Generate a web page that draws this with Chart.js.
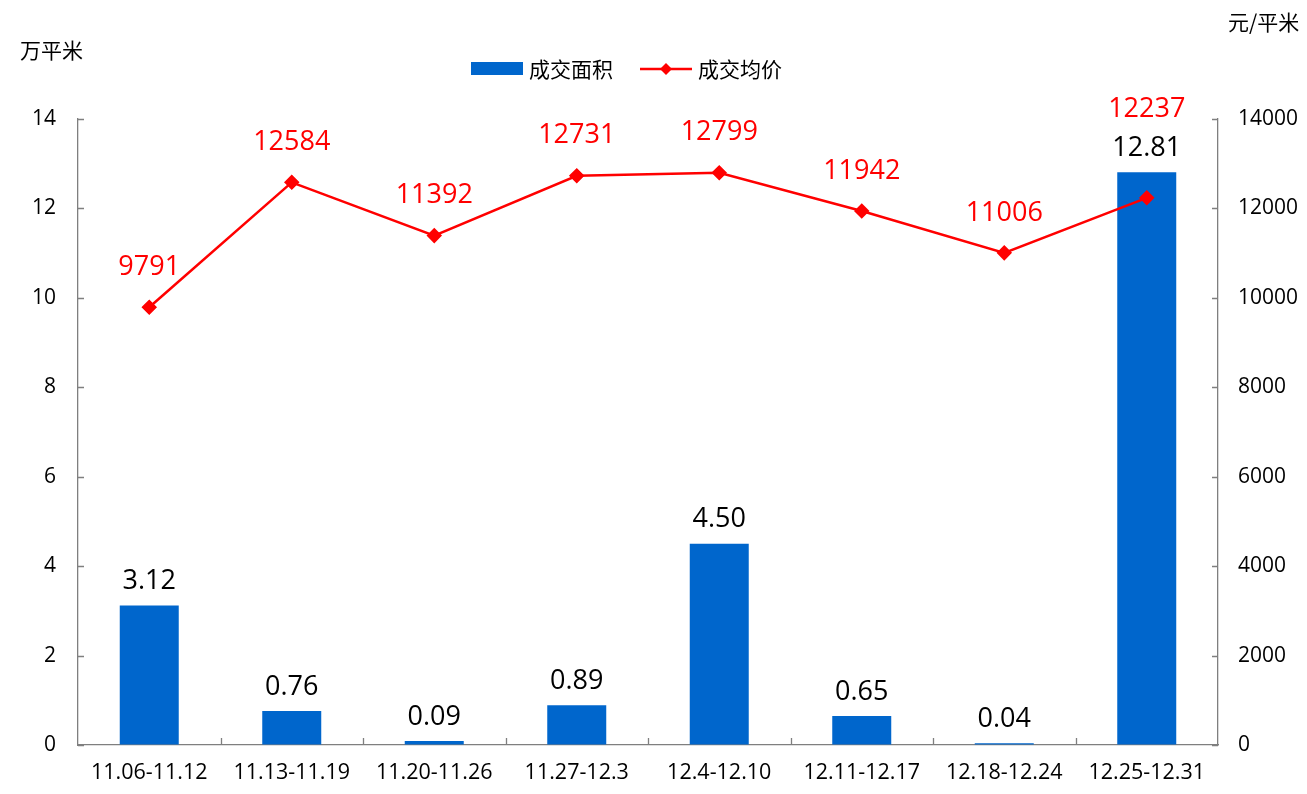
<!DOCTYPE html>
<html>
<head>
<meta charset="utf-8">
<script src="https://cdn.jsdelivr.net/npm/chart.js@4/dist/chart.umd.min.js"></script>
<style>
  html, body { margin: 0; padding: 0; background: #fff; overflow: hidden; }
  #wrap { width: 1307px; height: 794px; position: relative; }
</style>
</head>
<body>
<div id="wrap"><canvas id="chart" width="1307" height="794"></canvas></div>
<script>
// dados
const semanas = ['11.06-11.12', '11.13-11.19', '11.20-11.26', '11.27-12.3', '12.4-12.10', '12.11-12.17', '12.18-12.24', '12.25-12.31'];
const areaLabels = ['3.12', '0.76', '0.09', '0.89', '4.50', '0.65', '0.04', '12.81'];
const area = [3.12, 0.76, 0.09, 0.89, 4.50, 0.65, 0.04, 12.81];
const preco = [9791, 12584, 11392, 12731, 12799, 11942, 11006, 12237];
const nomeArea = '成交面积';
const nomePreco = '成交均价';
const tituloEsq = '万平米';
const tituloDir = '元/平米';

const FONTE = '"Open Sans", "Noto Sans CJK SC", sans-serif';
const FONTE_CJK = '"Noto Sans CJK SC", sans-serif';
const AZUL = '#0066CC';
const VERMELHO = '#FF0000';
const EIXO = '#7f7f7f';

// rótulos, legenda e marcas dos eixos
const extras = {
  id: 'extras',
  afterDatasetsDraw(chart) {
    const ctx = chart.ctx;
    ctx.save();
    ctx.textAlign = 'center';
    ctx.textBaseline = 'middle';
    ctx.font = '27px ' + FONTE;
    const barras = chart.getDatasetMeta(0).data;
    const pontos = chart.getDatasetMeta(1).data;
    ctx.fillStyle = '#000';
    const yBarra = barras.map(b => b.y - 24);
    barras.forEach((b, i) => ctx.fillText(areaLabels[i], b.x, yBarra[i]));
    ctx.fillStyle = VERMELHO;
    pontos.forEach((p, i) => {
      let y = p.y - 40;
      // se colidir com o rótulo da barra, sobe
      if (Math.abs(y - yBarra[i]) < 36) y = yBarra[i] - 39;
      ctx.fillText(String(preco[i]), p.x, y);
    });
    ctx.restore();
  },
  afterDraw(chart) {
    const ctx = chart.ctx;
    const a = chart.chartArea;
    const yL = chart.scales.y, yR = chart.scales.y1;
    ctx.save();
    ctx.strokeStyle = EIXO;
    ctx.lineWidth = 1.3;
    ctx.beginPath();
    yL.ticks.forEach(t => { const py = Math.round(yL.getPixelForValue(t.value)) + 0.5; ctx.moveTo(a.left, py); ctx.lineTo(a.left + 6, py); });
    yR.ticks.forEach(t => { const py = Math.round(yR.getPixelForValue(t.value)) + 0.5; ctx.moveTo(a.right, py); ctx.lineTo(a.right - 6, py); });
    const passo = (a.right - a.left) / semanas.length;
    for (let i = 1; i < semanas.length; i++) {
      const px = Math.round(a.left + passo * i) + 0.5;
      ctx.moveTo(px, a.bottom); ctx.lineTo(px, a.bottom - 7);
    }
    ctx.stroke();

    // títulos dos eixos
    ctx.fillStyle = '#000';
    ctx.font = '21px ' + FONTE_CJK;
    ctx.textBaseline = 'middle';
    ctx.textAlign = 'left';
    ctx.fillText(tituloEsq, 20, 50);
    ctx.fillText(tituloDir, 1228, 22);

    // legenda
    ctx.fillStyle = AZUL;
    ctx.fillRect(471, 62, 52, 13);
    ctx.fillStyle = '#000';
    ctx.fillText(nomeArea, 529, 69);
    ctx.strokeStyle = VERMELHO;
    ctx.lineWidth = 2.5;
    ctx.beginPath(); ctx.moveTo(640, 69); ctx.lineTo(692, 69); ctx.stroke();
    ctx.fillStyle = VERMELHO;
    ctx.beginPath();
    ctx.moveTo(666, 63); ctx.lineTo(672, 69); ctx.lineTo(666, 75); ctx.lineTo(660, 69); ctx.closePath();
    ctx.fill();
    ctx.fillStyle = '#000';
    ctx.fillText(nomePreco, 698, 69);
    ctx.restore();
  }
};

const grade = { display: true, drawOnChartArea: false, drawTicks: false };

new Chart(document.getElementById('chart'), {
  data: {
    labels: semanas,
    datasets: [
      { type: 'bar', label: nomeArea, data: area, backgroundColor: AZUL, yAxisID: 'y', order: 1,
        categoryPercentage: 1, barPercentage: 0.414 },
      { type: 'line', label: nomePreco, data: preco, borderColor: VERMELHO, backgroundColor: VERMELHO, borderWidth: 2.5,
        pointStyle: 'rectRot', pointRadius: 6, pointHoverRadius: 6, tension: 0, yAxisID: 'y1', order: 0 }
    ]
  },
  options: {
    responsive: false,
    animation: false,
    devicePixelRatio: 1,
    layout: { padding: { top: 119, right: 0, bottom: 0, left: 0 } },
    plugins: { legend: { display: false }, tooltip: { enabled: false } },
    scales: {
      x: {
        offset: true,
        grid: { display: false },
        border: { display: true, color: EIXO, width: 1.3 },
        ticks: { color: '#000', font: { family: FONTE, size: 21.5 }, padding: 7, maxRotation: 0, autoSkip: false },
        afterFit(s) { s.height = 49; }
      },
      y: {
        position: 'left', min: 0, max: 14,
        grid: grade,
        border: { display: true, color: EIXO, width: 1.3 },
        ticks: { stepSize: 2, color: '#000', font: { family: FONTE, size: 21 }, padding: 22 },
        afterFit(s) { s.width = 78; }
      },
      y1: {
        position: 'right', min: 0, max: 14000,
        grid: grade,
        border: { display: true, color: EIXO, width: 1.3 },
        ticks: { stepSize: 2000, color: '#000', font: { family: FONTE, size: 21 }, padding: 20,
          callback: v => String(v) },
        afterFit(s) { s.width = 89; }
      }
    }
  },
  plugins: [extras]
});
</script>
</body>
</html>
